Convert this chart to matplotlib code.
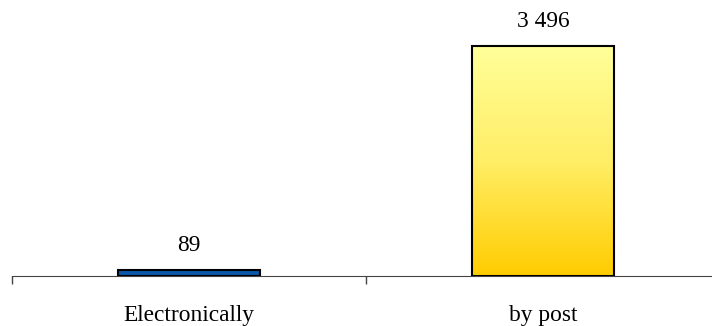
import numpy as np
import matplotlib
matplotlib.use("Agg")
import matplotlib.pyplot as plt
from matplotlib.colors import LinearSegmentedColormap

categories = ["Electronically", "by post"]
values = [89, 3496]
labels = ["89", "3 496"]

plt.rcParams["font.family"] = ["Liberation Serif", "DejaVu Serif"]

fig = plt.figure(figsize=(7.12, 3.26), dpi=100)
# axes deliberately run past the right edge of the figure
ax = fig.add_axes([12 / 712, 50 / 326, 708 / 712, 276 / 326])

x = np.arange(len(categories))
width = 0.40
bars = ax.bar(x, values, width=width, edgecolor="black", linewidth=1.5, zorder=3)
bars[0].set_facecolor("#0a56a8")
bars[1].set_facecolor("none")

# yellow gradient fill for the postal bar
cmap = LinearSegmentedColormap.from_list("post", ["#ffcc00", "#ffee66", "#ffff99"])
b = bars[1]
grad = np.linspace(0, 1, 256).reshape(-1, 1)
im = ax.imshow(grad, cmap=cmap, origin="lower", aspect="auto",
               extent=[b.get_x(), b.get_x() + b.get_width(), 0, b.get_height()],
               zorder=2)
im.set_clip_path(b)

for xi, v, lab in zip(x, values, labels):
    ax.annotate(lab, (xi, v), xytext=(0, 10), textcoords="offset points",
                ha="center", va="bottom", fontsize=16.8)

ax.set_xlim(-0.5, 1.5)
ax.set_ylim(0, 4200)
ax.set_xticks([-0.5, 0.5, 1.5])
ax.set_xticklabels([])
ax.set_xticks(x, minor=True)
ax.set_xticklabels(categories, minor=True, fontsize=16.8)
ax.tick_params(axis="x", which="major", length=6, width=1, color="#444444")
ax.tick_params(axis="x", which="minor", length=0, pad=21)
ax.set_yticks([])
for s in ["top", "right", "left"]:
    ax.spines[s].set_visible(False)
ax.spines["bottom"].set_color("#444444")

fig.savefig("out.png", dpi=100)
